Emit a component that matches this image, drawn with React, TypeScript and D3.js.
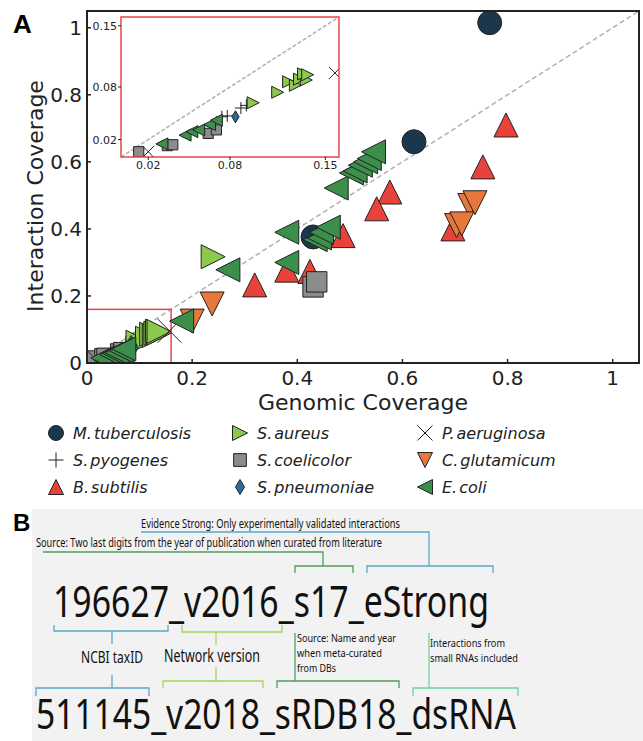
import * as d3 from "d3";

// species, in plotting / legend order (legend is column-major)
const species = [
  "M. tuberculosis",
  "S. pyogenes",
  "B. subtilis",
  "S. aureus",
  "S. coelicolor",
  "S. pneumoniae",
  "P. aeruginosa",
  "C. glutamicum",
  "E. coli",
];

// [genomic coverage, interaction coverage]
const tuberculosis = [[0.766, 1.015], [0.622, 0.66], [0.43, 0.376]];
const pyogenes = [[0.074, 0.046], [0.078, 0.047], [0.088, 0.056], [0.092, 0.059]];
const subtilis = [
  [0.797, 0.71], [0.753, 0.585], [0.576, 0.51], [0.551, 0.46], [0.487, 0.38],
  [0.319, 0.233], [0.38, 0.277], [0.424, 0.273], [0.696, 0.4],
];
const aureus = [
  [0.24, 0.317], [0.097, 0.062], [0.115, 0.074], [0.123, 0.086], [0.128, 0.082],
  [0.131, 0.089], [0.136, 0.088], [0.134, 0.095], [0.137, 0.094],
];
const coelicolor = [
  [0.43, 0.227], [0.437, 0.242], [0.013, 0.006], [0.034, 0.013], [0.038, 0.014],
  [0.064, 0.027], [0.07, 0.031],
];
const pneumoniae = [[0.084, 0.046]];
const aeruginosa = [[0.02, 0.006], [0.157, 0.096]];
const glutamicum = [
  [0.728, 0.47], [0.738, 0.478], [0.703, 0.41], [0.713, 0.415], [0.238, 0.176], [0.2, 0.125],
];
const ecoli = [
  [0.18, 0.125], [0.268, 0.278], [0.38, 0.39], [0.38, 0.3], [0.434, 0.368], [0.442, 0.373],
  [0.446, 0.39], [0.459, 0.405], [0.474, 0.522], [0.503, 0.567], [0.51, 0.573],
  [0.52, 0.59], [0.53, 0.6], [0.537, 0.61], [0.545, 0.63],
  [0.03, 0.015], [0.047, 0.025], [0.052, 0.029], [0.057, 0.031], [0.065, 0.037], [0.07, 0.042],
];
const seriesData = [
  tuberculosis, pyogenes, subtilis, aureus, coelicolor, pneumoniae, aeruginosa, glutamicum, ecoli,
];

const mainTicks = [0, 0.2, 0.4, 0.6, 0.8, 1];
const insetTicks = [0.02, 0.08, 0.15];

const styles = {
  "M. tuberculosis": { shape: "circle", color: "#1b374b" },
  "S. pyogenes": { shape: "plus", color: "#222" },
  "B. subtilis": { shape: "up", color: "#e8433b" },
  "S. aureus": { shape: "right", color: "#8cc84b" },
  "S. coelicolor": { shape: "square", color: "#8c8c8c" },
  "S. pneumoniae": { shape: "diamond", color: "#2d6a98" },
  "P. aeruginosa": { shape: "x", color: "#222" },
  "C. glutamicum": { shape: "down", color: "#e8773b" },
  "E. coli": { shape: "left", color: "#3c8f4b" },
};

const fmt = (v) => String(+v.toFixed(2));

function Marker({ shape, color, cx, cy, s }) {
  const h = s / 2;
  const edge = { stroke: "#222", strokeWidth: 1, fill: color };
  const t = `translate(${cx},${cy})`;
  if (shape === "circle") return <circle cx={cx} cy={cy} r={h} {...edge} />;
  if (shape === "plus")
    return <path transform={t} d={`M${-h},0H${h}M0,${-h}V${h}`} stroke="#222" strokeWidth={1} fill="none" />;
  if (shape === "x")
    return <path transform={t} d={`M${-h},${-h}L${h},${h}M${-h},${h}L${h},${-h}`} stroke="#222" strokeWidth={1} fill="none" />;
  let d = "";
  if (shape === "up") d = `M0,${-h}L${h},${h}L${-h},${h}Z`;
  if (shape === "down") d = `M0,${h}L${h},${-h}L${-h},${-h}Z`;
  if (shape === "right") d = `M${h},0L${-h},${-h}L${-h},${h}Z`;
  if (shape === "left") d = `M${-h},0L${h},${-h}L${h},${h}Z`;
  if (shape === "square") { const q = h * 0.85; d = `M${-q},${-q}H${q}V${q}H${-q}Z`; }
  if (shape === "diamond") d = `M0,${-h}L${h * 0.6},0L0,${h}L${-h * 0.6},0Z`;
  return <path transform={t} d={d} {...edge} />;
}

const App = () => {
  const x = d3.scaleLinear().domain([0, 1.05]).range([87, 639]);
  const y = d3.scaleLinear().domain([0, 1.05]).range([363, 11]);
  const xi = d3.scaleLinear().domain([0, 0.16]).range([121, 339]);
  const yi = d3.scaleLinear().domain([0, 0.16]).range([157, 17]);

  const plotFont = "DejaVu Sans, sans-serif";
  const bFont = "'Liberation Sans Narrow', 'Noto Sans', sans-serif";

  const legendCols = [56, 240, 425];
  const legendRows = [433, 460, 487];

  const blue = "#5ba6c9";
  const green = "#4f9e5c";
  const lime = "#a6d45a";
  const mint = "#6dd3a2";

  return (
    <svg width={643} height={741} style={{ position: "absolute", left: 0, top: 0 }} fontFamily={plotFont}>
      <defs>
        <clipPath id="mainClip"><rect x={87} y={11} width={552} height={352} /></clipPath>
        <clipPath id="insetClip"><rect x={121} y={17} width={218} height={140} /></clipPath>
      </defs>
      <rect width={643} height={741} fill="#fff" />

      {/* Panel A */}
      <text x={13} y={33} fontSize={26} fontWeight="bold" fontFamily="'Liberation Sans', Arial, sans-serif">A</text>

      <line x1={x(0)} y1={y(0)} x2={x(1.05)} y2={y(1.05)} stroke="#b0b0b0" strokeWidth={1.5} strokeDasharray="5,3" clipPath="url(#mainClip)" />
      <rect x={x(0)} y={y(0.16)} width={x(0.16) - x(0)} height={y(0) - y(0.16)} fill="none" stroke="#e84545" strokeWidth={1.5} />

      <g clipPath="url(#mainClip)">
        {species.map((name, i) =>
          seriesData[i].map((p, j) => (
            <Marker key={`${i}-${j}`} shape={styles[name].shape} color={styles[name].color} cx={x(p[0])} cy={y(p[1])} s={24} />
          ))
        )}
      </g>

      <rect x={87} y={11} width={552} height={352} fill="none" stroke="#222" strokeWidth={2} />
      {mainTicks.map((t) => (
        <g key={`x${t}`}>
          <line x1={x(t)} x2={x(t)} y1={363} y2={359} stroke="#222" strokeWidth={1.5} />
          <text x={x(t)} y={385} fontSize={20} textAnchor="middle" fill="#222">{fmt(t)}</text>
        </g>
      ))}
      {mainTicks.map((t) => (
        <g key={`y${t}`}>
          <line x1={87} x2={91} y1={y(t)} y2={y(t)} stroke="#222" strokeWidth={1.5} />
          <text x={82} y={y(t) + 7} fontSize={20} textAnchor="end" fill="#222">{fmt(t)}</text>
        </g>
      ))}
      <text x={363} y={410} fontSize={22} textAnchor="middle" fill="#222">Genomic Coverage</text>
      <text transform="translate(43,196) rotate(-90)" fontSize={22} textAnchor="middle" fill="#222">Interaction Coverage</text>

      {/* inset */}
      <rect x={121} y={17} width={218} height={140} fill="#fff" />
      <line x1={xi(0)} y1={yi(0)} x2={xi(0.16)} y2={yi(0.16)} stroke="#b0b0b0" strokeWidth={1.5} strokeDasharray="4,2" />
      <g clipPath="url(#insetClip)">
        {species.map((name, i) =>
          seriesData[i]
            .filter((p) => p[0] <= 0.16 && p[1] <= 0.16)
            .map((p, j) => (
              <Marker key={`i${i}-${j}`} shape={styles[name].shape} color={styles[name].color} cx={xi(p[0])} cy={yi(p[1])} s={12} />
            ))
        )}
      </g>
      <rect x={121} y={17} width={218} height={140} fill="none" stroke="#e84545" strokeWidth={1.5} />
      {insetTicks.map((t) => (
        <g key={`ix${t}`}>
          <line x1={xi(t)} x2={xi(t)} y1={157} y2={160} stroke="#222" strokeWidth={1} />
          <text x={xi(t)} y={169} fontSize={11} textAnchor="middle" fill="#222">{t.toFixed(2)}</text>
          <line x1={118} x2={121} y1={yi(t)} y2={yi(t)} stroke="#222" strokeWidth={1} />
          <text x={117} y={yi(t) + 4} fontSize={11} textAnchor="end" fill="#222">{t.toFixed(2)}</text>
        </g>
      ))}

      {/* legend */}
      {species.map((name, i) => {
        const cx = legendCols[Math.floor(i / 3)];
        const cy = legendRows[i % 3];
        const [genus, rest] = name.split(" ");
        return (
          <g key={`lg${i}`}>
            <Marker shape={styles[name].shape} color={styles[name].color} cx={cx} cy={cy} s={15} />
            <text x={cx + 17} y={cy + 6} fontSize={16} fontStyle="italic" fill="#222">
              {genus}
              <tspan dx={2}>{rest}</tspan>
            </text>
          </g>
        );
      })}

      {/* Panel B */}
      <rect x={32} y={509} width={611} height={232} fill="#f2f2f2" />
      <text x={13} y={531} fontSize={24} fontWeight="bold" fontFamily="'Liberation Sans', Arial, sans-serif">B</text>

      <g fontFamily={bFont} fill="#111">
        <text x={141} y={528} fontSize={13} textLength={259} lengthAdjust="spacingAndGlyphs">Evidence Strong: Only experimentally validated interactions</text>
        <text x={36} y={547} fontSize={13} textLength={346} lengthAdjust="spacingAndGlyphs">Source: Two last digits from the year of publication when curated from literature</text>
        <text x={53} y={617} fontSize={44} textLength={436} lengthAdjust="spacingAndGlyphs">196627_v2016_s17_eStrong</text>
        <text x={36} y={729} fontSize={42} textLength={480} lengthAdjust="spacingAndGlyphs">511145_v2018_sRDB18_dsRNA</text>
        <text x={112} y={663} fontSize={17} textAnchor="middle" textLength={62} lengthAdjust="spacingAndGlyphs">NCBI taxID</text>
        <text x={212} y={662} fontSize={18} textAnchor="middle" textLength={96} lengthAdjust="spacingAndGlyphs">Network version</text>
        <text x={297} y={642} fontSize={11.5} textLength={99} lengthAdjust="spacingAndGlyphs">Source: Name and year</text>
        <text x={297} y={657} fontSize={11.5} textLength={85} lengthAdjust="spacingAndGlyphs">when meta-curated</text>
        <text x={297} y={672} fontSize={11.5} textLength={39} lengthAdjust="spacingAndGlyphs">from DBs</text>
        <text x={430} y={647} fontSize={11.5} textLength={75} lengthAdjust="spacingAndGlyphs">Interactions from</text>
        <text x={430} y={662} fontSize={11.5} textLength={88} lengthAdjust="spacingAndGlyphs">small RNAs included</text>
      </g>

      <g fill="none" strokeWidth={1.3}>
        <path d="M141,532H429V566" stroke={blue} />
        <path d="M367,573V566H493V573" stroke={blue} />
        <path d="M43,552H323V566" stroke={green} />
        <path d="M295,573V566H353V573" stroke={green} />

        <path d="M54,625V631H168V625M112,631V644M112,675V688" stroke={blue} />
        <path d="M36,696V688H149V696" stroke={blue} />
        <path d="M182,625V632H282V625M216,632V645M216,667V681" stroke={lime} />
        <path d="M163,688V681H263V688" stroke={lime} />
        <path d="M295,633V681M277,688V681H399V688" stroke={green} />
        <path d="M429,633V688M413,696V688H518V696" stroke={mint} />
      </g>
    </svg>
  );
};

export default App;
